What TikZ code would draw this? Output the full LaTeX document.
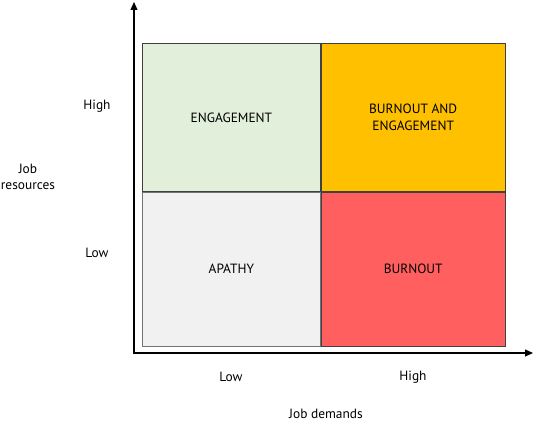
\documentclass[tikz,border=0pt]{standalone}
\usepackage{fontspec}
\setmainfont{PT Sans}
\usetikzlibrary{arrows.meta}

\definecolor{engagefill}{HTML}{E2EFDA}
\definecolor{bothfill}{HTML}{FFC000}
\definecolor{apathyfill}{HTML}{F1F1F1}
\definecolor{burnoutfill}{HTML}{FF5F5F}

\begin{document}
\begin{tikzpicture}[x=1pt,y=-1pt,
  cell/.style={draw=black!75, line width=0.8pt, anchor=north west, inner sep=0pt,
    align=center, font=\fontsize{13.4}{17}\selectfont},
  lbl/.style={align=center, font=\fontsize{13.4}{16}\selectfont},
  axis/.style={line width=1.2pt, {Triangle[length=8pt,width=7pt]}-{Triangle[length=8pt,width=7pt]}}]
\useasboundingbox (0,0) rectangle (533,422);

% quadrants
\node[cell, fill=engagefill, minimum width=178pt, minimum height=148pt] (engage) at (142,43) {ENGAGEMENT};
\node[cell, fill=bothfill, minimum width=184pt, minimum height=148pt] (both) at (engage.north east) {BURNOUT AND\\ENGAGEMENT};
\node[cell, fill=apathyfill, draw=black!55, minimum width=178pt, minimum height=154pt] (apathy) at (engage.south west) {APATHY};
\node[cell, fill=burnoutfill, minimum width=184pt, minimum height=154pt] (burnout) at (engage.south east) {BURNOUT};

% axes
\coordinate (origin) at (134,353);
\coordinate (ytip) at (134,2);
\coordinate (xtip) at (533,353);
\draw[axis] (ytip) -- (origin) -- (xtip);

% axis labels
\node[lbl] (yhigh) at (97,106) {High};
\node[lbl] (ylow) at (97,253) {Low};
\node[lbl] (yname) at (28,177) {Job\\resources};
\node[lbl] (xlow) at (231,377) {Low};
\node[lbl] (xhigh) at (413,377) {High};
\node[lbl] (xname) at (326,413.5) {Job demands};
\end{tikzpicture}
\end{document}
